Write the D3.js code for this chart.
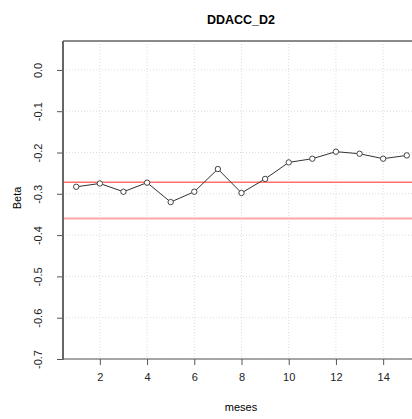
<!DOCTYPE html>
<html>
<head>
<meta charset="utf-8">
<script src="https://cdn.jsdelivr.net/npm/d3@7"></script>
<style>
body { margin: 0; background: #fff; }
text { font-family: "Liberation Sans", Arial, sans-serif; }
</style>
</head>
<body>
<div id="chart"></div>
<script>
// chart data
var meses = [1, 2, 3, 4, 5, 6, 7, 8, 9, 10, 11, 12, 13, 14, 15];
var beta = [-0.283, -0.275, -0.295, -0.273, -0.320, -0.295, -0.240, -0.298, -0.264, -0.224, -0.215, -0.198, -0.203, -0.215, -0.207];
var refLines = [-0.272, -0.360];
var refColors = ["#ff6f6f", "#ffa6a6"];
var xTicks = [2, 4, 6, 8, 10, 12, 14];
var yTicks = [0.0, -0.1, -0.2, -0.3, -0.4, -0.5, -0.6, -0.7];

var W = 412, H = 419;
var plotLeft = 63, plotTop = 41, plotBottom = 359, plotRight = 420;

var svg = d3.select("#chart").append("svg")
	.attr("width", W)
	.attr("height", H);

var x = d3.scaleLinear().domain([0.44, 15.56]).range([plotLeft, plotRight]);
var y = d3.scaleLinear().domain([-0.7, 0.07]).range([plotBottom, plotTop]);

// grid
svg.selectAll(".gx").data(xTicks).enter().append("line")
	.attr("x1", function(d){ return x(d); })
	.attr("x2", function(d){ return x(d); })
	.attr("y1", plotTop).attr("y2", plotBottom)
	.attr("stroke", "#dcdcdc").attr("stroke-dasharray", "1,2");
svg.selectAll(".gy").data(yTicks).enter().append("line")
	.attr("x1", plotLeft).attr("x2", W)
	.attr("y1", function(d){ return y(d); })
	.attr("y2", function(d){ return y(d); })
	.attr("stroke", "#dcdcdc").attr("stroke-dasharray", "1,2");

// reference lines
svg.selectAll(".ref").data(refLines).enter().append("line")
	.attr("x1", plotLeft).attr("x2", W)
	.attr("y1", function(d){ return y(d); })
	.attr("y2", function(d){ return y(d); })
	.attr("stroke", function(d, i){ return refColors[i]; })
	.attr("stroke-width", function(d, i){ return i == 0 ? 1.5 : 2; });

// frame
svg.append("line").attr("x1", plotLeft).attr("x2", W).attr("y1", plotTop).attr("y2", plotTop)
	.attr("stroke", "#8a8a8a").attr("stroke-width", 2);
svg.append("line").attr("x1", plotLeft).attr("x2", W).attr("y1", plotBottom).attr("y2", plotBottom)
	.attr("stroke", "#8a8a8a").attr("stroke-width", 1.5);

// x axis
var xAxis = svg.append("g")
	.attr("transform", "translate(0," + plotBottom + ")")
	.call(d3.axisBottom(x).tickValues(xTicks).tickSize(6).tickPadding(8).tickFormat(d3.format("d")));
xAxis.select(".domain").remove();
xAxis.selectAll(".tick line").attr("stroke", "#555");
xAxis.selectAll("text").attr("font-size", 11).attr("fill", "#222");

// y axis (plain hyphen as minus sign)
var yFmt = function(d){ return d3.format(".1f")(d).replace("\u2212", "-"); };
var yAxis = svg.append("g")
	.attr("transform", "translate(" + plotLeft + ",0)")
	.call(d3.axisLeft(y).tickValues(yTicks).tickSize(6).tickFormat(yFmt));
yAxis.select(".domain").remove();
yAxis.selectAll(".tick line").attr("stroke", "#555");
yAxis.selectAll("text")
	.attr("font-size", 11).attr("fill", "#222")
	.attr("x", 0).attr("dy", 0)
	.attr("text-anchor", "middle")
	.attr("transform", "translate(-21,0) rotate(-90)");
svg.append("line").attr("x1", plotLeft).attr("x2", plotLeft).attr("y1", plotTop).attr("y2", plotBottom + 1)
	.attr("stroke", "#666").attr("stroke-width", 2);

// series
var line = d3.line()
	.x(function(d, i){ return x(meses[i]); })
	.y(function(d){ return y(d); });
svg.append("path").datum(beta)
	.attr("d", line)
	.attr("fill", "none")
	.attr("stroke", "#333")
	.attr("stroke-width", 1);
svg.selectAll(".pt").data(beta).enter().append("circle")
	.attr("cx", function(d, i){ return x(meses[i]); })
	.attr("cy", function(d){ return y(d); })
	.attr("r", 2.7)
	.attr("fill", "#fff")
	.attr("stroke", "#444")
	.attr("stroke-width", 1);

// labels
svg.append("text").attr("x", 241).attr("y", 24)
	.attr("text-anchor", "middle").attr("font-size", 12.5).attr("font-weight", "bold")
	.text("DDACC_D2");
svg.append("text").attr("x", 241).attr("y", 411)
	.attr("text-anchor", "middle").attr("font-size", 11)
	.text("meses");
svg.append("text")
	.attr("transform", "translate(21,198) rotate(-90)")
	.attr("text-anchor", "middle").attr("font-size", 11)
	.text("Beta");
</script>
</body>
</html>
